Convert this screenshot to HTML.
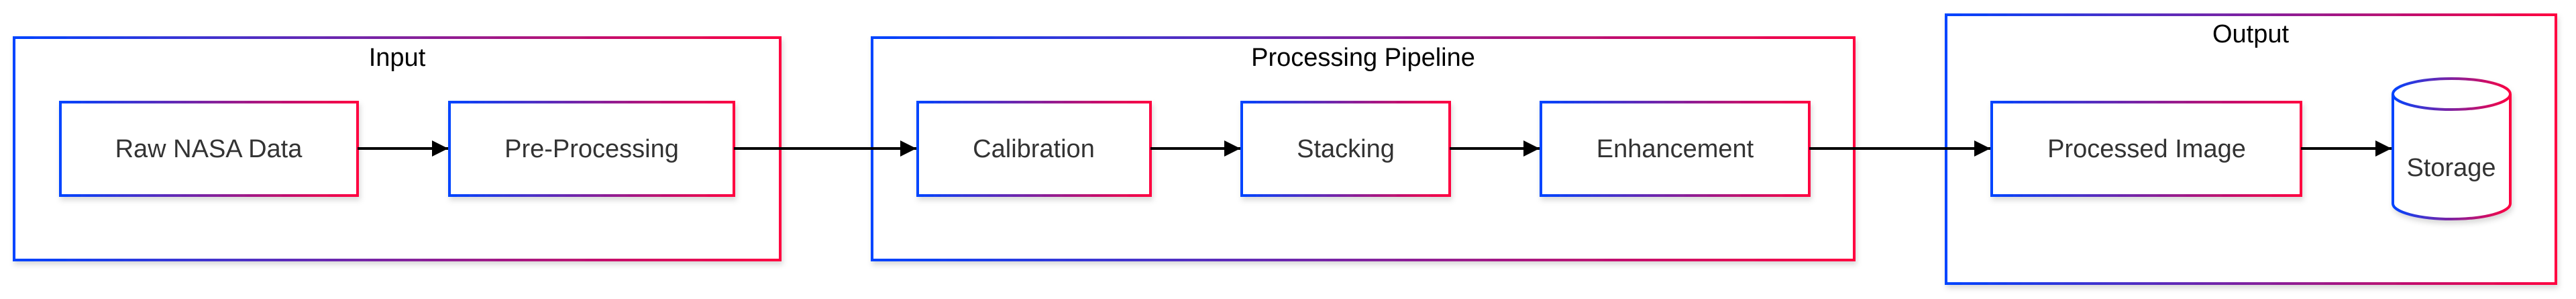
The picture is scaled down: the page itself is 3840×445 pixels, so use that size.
<!DOCTYPE html>
<html><head><meta charset="utf-8"><style>html,body{margin:0;padding:0;background:#fff;width:3840px;height:445px;overflow:hidden}</style></head>
<body>
<svg width="3840" height="445" viewBox="0 0 3840 445" xmlns="http://www.w3.org/2000/svg" font-family="Liberation Sans, Arial, sans-serif">
<defs>
<linearGradient id="g" x1="0" y1="0" x2="1" y2="0"><stop offset="0" stop-color="#0044ff"/><stop offset="1" stop-color="#ff0040"/></linearGradient>
<filter id="sh" x="-5%" y="-5%" width="110%" height="120%"><feDropShadow dx="2" dy="5" stdDeviation="4" flood-color="#000" flood-opacity="0.15"/></filter>
<marker id="ar" viewBox="0 0 10 10" refX="10" refY="5" markerWidth="6" markerHeight="6" markerUnits="strokeWidth" orient="auto"><path d="M0,0L10,5L0,10z" fill="#000"/></marker>
</defs>
<g fill="#fff" stroke="url(#g)" stroke-width="4" filter="url(#sh)">
<rect x="21" y="56" width="1142" height="331"/>
<rect x="1300" y="56" width="1464" height="331"/>
<rect x="2901" y="22" width="909" height="400"/>
</g>
<g fill="#fff" stroke="url(#g)" stroke-width="4" filter="url(#sh)">
<rect x="90" y="152" width="443" height="139"/>
<rect x="670" y="152" width="424" height="139"/>
<rect x="1368" y="152" width="347" height="139"/>
<rect x="1851" y="152" width="310" height="139"/>
<rect x="2297" y="152" width="400" height="139"/>
<rect x="2969" y="152" width="461" height="139"/>
<path d="M3567,140 A87.5,23 0 0 1 3742,140 L3742,303 A87.5,23 0 0 1 3567,303 Z"/>
<path d="M3567,140 A87.5,23 0 0 0 3742,140" fill="none"/>
</g>
<g stroke="#000" stroke-width="4" fill="none" marker-end="url(#ar)">
<line x1="533" y1="221" x2="668" y2="221"/>
<line x1="1094" y1="221" x2="1366" y2="221"/>
<line x1="1715" y1="221" x2="1849" y2="221"/>
<line x1="2161" y1="221" x2="2295" y2="221"/>
<line x1="2697" y1="221" x2="2967" y2="221"/>
<line x1="3430" y1="221" x2="3565" y2="221"/>
</g>
<g font-size="38" text-anchor="middle" fill="#000">
<text x="592" y="98">Input</text>
<text x="2032" y="98">Processing Pipeline</text>
<text x="3355" y="63">Output</text>
</g>
<g font-size="38" text-anchor="middle" fill="#333">
<text x="311" y="234">Raw NASA Data</text>
<text x="882" y="234">Pre-Processing</text>
<text x="1541" y="234">Calibration</text>
<text x="2006" y="234">Stacking</text>
<text x="2497" y="234">Enhancement</text>
<text x="3200" y="234">Processed Image</text>
<text x="3654" y="262">Storage</text>
</g>
</svg>
</body></html>
